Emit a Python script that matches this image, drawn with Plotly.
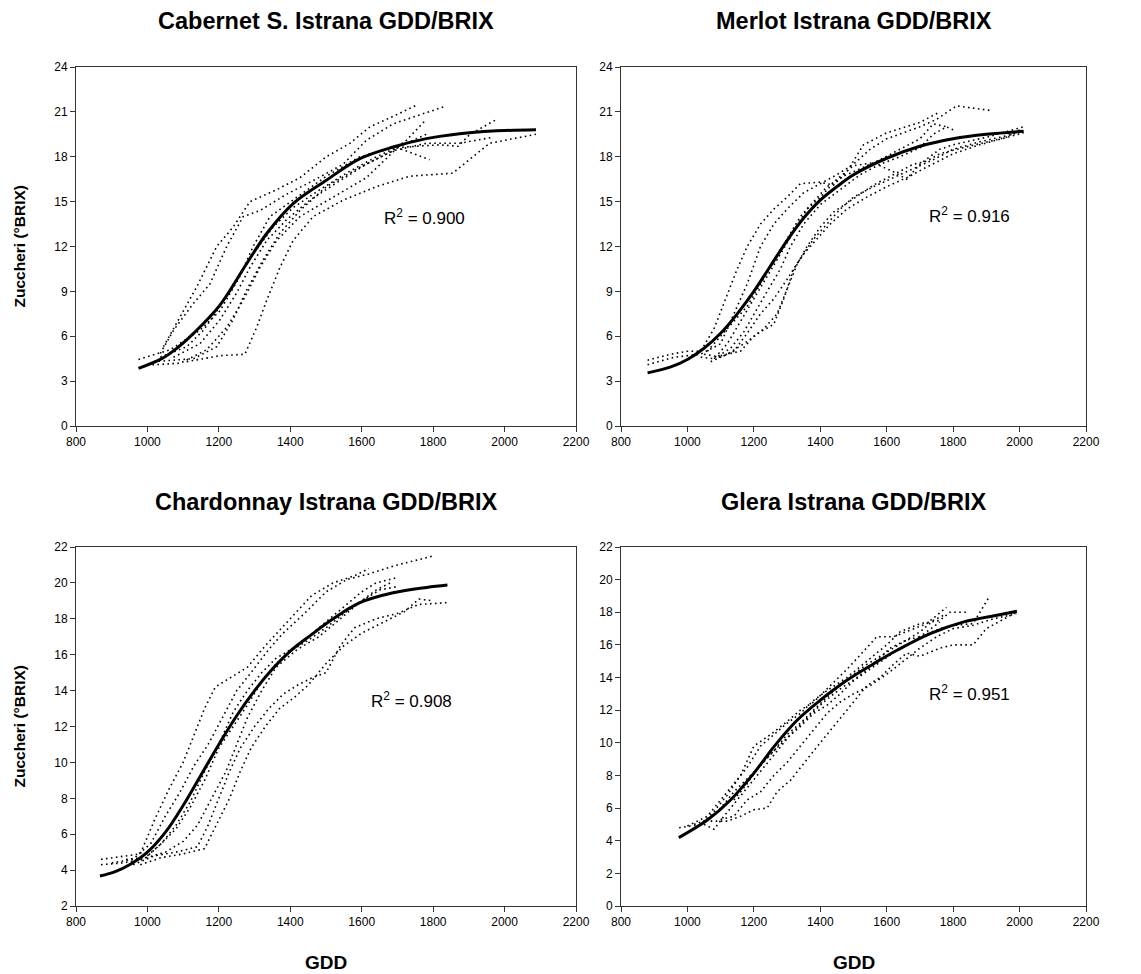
import plotly.graph_objects as go

# ---------------- DATA ----------------
panel_titles = ["Cabernet S. Istrana GDD/BRIX", "Merlot Istrana GDD/BRIX",
                "Chardonnay Istrana GDD/BRIX", "Glera Istrana GDD/BRIX"]
r2_labels = ["0.900", "0.916", "0.908", "0.951"]
r2_pos = [(1777, 14.0), (1848, 14.1), (1738, 13.5), (1848, 13.05)]
y_ranges = [(0, 24, 3), (0, 24, 3), (2, 22, 2), (0, 22, 2)]
x_ticks = [800, 1000, 1200, 1400, 1600, 1800, 2000, 2200]

# fitted curves (GDD, Brix)
cab_fit = [(975, 3.85), (1040, 4.5), (1082, 5.19), (1129, 6.19), (1203, 8.08), (1278, 10.86),
           (1334, 12.87), (1408, 14.87), (1501, 16.43), (1595, 17.87), (1688, 18.65),
           (1781, 19.21), (1874, 19.54), (1967, 19.72), (2088, 19.81)]
mer_fit = [(880, 3.55), (950, 3.95), (1000, 4.45), (1050, 5.2), (1100, 6.2), (1150, 7.5),
           (1200, 9.0), (1250, 10.7), (1300, 12.4), (1350, 13.9), (1400, 15.1), (1450, 16.0),
           (1500, 16.8), (1600, 17.9), (1700, 18.7), (1800, 19.2), (1900, 19.5), (2012, 19.7)]
cha_fit = [(867, 3.67), (910, 3.92), (950, 4.3), (1000, 5.0), (1050, 6.1), (1100, 7.6),
           (1150, 9.3), (1200, 11.0), (1250, 12.6), (1300, 14.0), (1350, 15.2), (1400, 16.2),
           (1455, 17.05), (1520, 18.0), (1595, 18.9), (1688, 19.45), (1782, 19.75), (1840, 19.88)]
gle_fit = [(974, 4.19), (1059, 5.25), (1129, 6.48), (1199, 8.11), (1260, 9.75), (1330, 11.38),
           (1400, 12.61), (1480, 13.83), (1561, 14.85), (1631, 15.67), (1731, 16.69),
           (1832, 17.41), (1932, 17.82), (1992, 18.06)]

# yearly observations (GDD, Brix), one list per year
cab_years = [
    [(1045, 5.3), (1110, 8.1), (1138, 9.3), (1194, 12.0), (1240, 13.3), (1287, 15.0), (1362, 15.8),
     (1427, 16.6), (1501, 18.0), (1567, 18.9), (1623, 20.0), (1688, 20.7), (1758, 21.5)],
    [(1036, 4.85), (1073, 6.4), (1129, 8.2), (1175, 9.5), (1222, 12.0), (1268, 14.0), (1315, 14.4),
     (1390, 15.5), (1464, 16.4), (1548, 17.5), (1613, 19.1), (1688, 20.2), (1837, 21.4)],
    [(975, 4.45), (1064, 5.1), (1147, 6.4), (1203, 7.7), (1259, 10.0), (1296, 12.0), (1343, 14.0),
     (1408, 15.1), (1501, 16.7), (1595, 18.0), (1688, 18.6), (1819, 18.8), (1870, 18.7),
     (1903, 19.5), (1978, 20.5)],
    [(1000, 4.07), (1092, 4.2), (1166, 5.1), (1222, 6.6), (1268, 8.4), (1315, 10.6), (1362, 12.4),
     (1427, 14.0), (1520, 15.3), (1613, 16.6), (1700, 18.6), (1790, 17.8)],
    [(1110, 4.3), (1203, 4.7), (1273, 4.8), (1306, 6.6), (1334, 8.4), (1371, 10.6), (1408, 12.4),
     (1464, 14.0), (1548, 15.1), (1641, 16.0), (1734, 16.7), (1855, 16.9), (1901, 17.8),
     (1958, 18.9), (2088, 19.5)],
    [(1017, 4.3), (1129, 4.5), (1194, 5.3), (1240, 7.1), (1278, 9.1), (1324, 11.1), (1371, 12.9),
     (1427, 14.4), (1501, 16.0), (1595, 17.3), (1688, 18.4), (1781, 18.9), (1874, 18.9),
     (1967, 19.3)],
    [(1036, 4.6), (1110, 5.3), (1157, 6.4), (1203, 8.0), (1250, 9.8), (1296, 11.5), (1352, 13.3),
     (1408, 14.6), (1483, 15.8), (1557, 16.9), (1641, 18.0), (1725, 18.9), (1781, 19.5)],
    [(1073, 4.6), (1147, 5.5), (1203, 7.1), (1250, 8.9), (1287, 10.6), (1334, 12.4), (1390, 13.8),
     (1455, 15.1), (1539, 16.4), (1613, 17.5), (1688, 18.4), (1725, 19.1), (1781, 20.5)],
]
mer_years = [
    [(880, 4.4), (950, 4.8), (1000, 5.0), (1040, 5.0), (1080, 6.5), (1110, 8.2), (1150, 10.5),
     (1180, 12.0), (1220, 13.5), (1260, 14.5), (1300, 15.3), (1340, 16.2), (1400, 16.3),
     (1440, 16.1), (1480, 17.0), (1530, 18.8), (1600, 19.6), (1700, 20.3), (1760, 21.0)],
    [(880, 4.1), (960, 4.6), (1040, 4.8), (1100, 5.5), (1140, 7.5), (1180, 9.5), (1220, 12.0),
     (1260, 13.5), (1300, 14.5), (1350, 15.6), (1400, 16.2), (1450, 16.8), (1500, 17.5),
     (1550, 18.5), (1600, 19.2), (1700, 20.0), (1750, 20.5), (1810, 21.4), (1910, 21.1)],
    [(1040, 4.6), (1080, 4.5), (1120, 5.5), (1160, 7.0), (1200, 8.5), (1240, 10.0), (1280, 11.5),
     (1320, 13.0), (1360, 14.5), (1400, 15.3), (1450, 16.5), (1500, 17.4), (1560, 17.6),
     (1620, 17.0), (1660, 16.5), (1700, 17.5), (1760, 18.5), (1800, 18.8), (1900, 19.3),
     (2012, 20.0)],
    [(1050, 4.8), (1100, 4.6), (1140, 5.0), (1180, 6.2), (1220, 7.5), (1260, 8.5), (1300, 9.8),
     (1340, 11.2), (1380, 12.5), (1420, 13.5), (1460, 14.5), (1500, 15.3), (1560, 16.0),
     (1620, 16.6), (1680, 17.2), (1740, 17.8), (1800, 18.5), (1880, 19.0), (1960, 19.4),
     (2012, 19.7)],
    [(1070, 4.3), (1120, 4.8), (1170, 5.5), (1220, 6.3), (1260, 6.8), (1290, 8.5), (1320, 10.5),
     (1350, 11.5), (1390, 12.5), (1430, 13.5), (1480, 14.5), (1540, 15.3), (1600, 16.0),
     (1660, 16.6), (1720, 17.3), (1800, 18.2), (1880, 18.8), (1960, 19.3), (2012, 19.6)],
    [(1080, 4.5), (1130, 5.2), (1170, 6.3), (1200, 7.5), (1240, 9.0), (1280, 10.5), (1310, 12.0),
     (1350, 13.5), (1400, 14.8), (1460, 15.8), (1520, 16.8), (1580, 17.5), (1640, 18.0),
     (1700, 18.6), (1740, 19.5), (1780, 20.0), (1800, 19.8)],
    [(1060, 5.0), (1100, 6.0), (1140, 7.0), (1180, 8.0), (1220, 9.5), (1260, 11.0), (1300, 12.5),
     (1340, 14.0), (1380, 15.0), (1420, 16.0), (1470, 16.7), (1520, 17.2), (1580, 17.8),
     (1640, 18.5), (1700, 19.2), (1740, 20.2), (1780, 20.0)],
    [(1100, 4.7), (1160, 5.0), (1200, 6.0), (1230, 6.5), (1270, 7.5), (1300, 9.2), (1330, 10.8),
     (1360, 12.0), (1400, 13.3), (1440, 14.3), (1500, 15.2), (1560, 16.1), (1620, 16.8),
     (1680, 17.5), (1720, 17.7), (1760, 18.2), (1830, 18.6), (1900, 19.0), (1960, 19.3),
     (2000, 19.8)],
]
cha_years = [
    [(870, 4.6), (940, 4.8), (980, 4.9), (1020, 6.8), (1060, 8.5), (1100, 10.0), (1130, 11.5),
     (1160, 13.0), (1190, 14.2), (1230, 14.7), (1280, 15.3), (1330, 16.5), (1400, 18.0),
     (1460, 19.3), (1520, 20.0), (1580, 20.4), (1620, 20.8)],
    [(900, 4.4), (960, 4.6), (1010, 5.5), (1050, 7.0), (1090, 8.3), (1130, 9.8), (1170, 11.0),
     (1210, 12.5), (1250, 14.0), (1290, 15.0), (1340, 16.3), (1380, 17.2), (1440, 18.3),
     (1500, 19.5), (1560, 20.2), (1620, 20.5), (1700, 21.0), (1800, 21.5)],
    [(870, 4.3), (930, 4.4), (990, 4.6), (1040, 5.5), (1080, 6.5), (1120, 7.8), (1160, 9.5),
     (1200, 11.0), (1240, 12.8), (1280, 14.0), (1320, 15.0), (1360, 15.8), (1420, 16.5),
     (1480, 17.5), (1540, 18.5), (1600, 19.5), (1640, 20.0), (1700, 20.3)],
    [(940, 4.6), (1000, 4.7), (1050, 5.0), (1100, 5.6), (1140, 6.5), (1180, 8.0), (1220, 9.5),
     (1250, 11.0), (1280, 12.5), (1320, 14.0), (1360, 15.3), (1420, 16.3), (1480, 17.0),
     (1540, 18.0), (1600, 19.0), (1640, 19.6), (1680, 20.0)],
    [(960, 4.3), (1020, 4.8), (1080, 5.0), (1140, 5.3), (1170, 6.5), (1200, 8.0), (1230, 9.5),
     (1260, 10.8), (1300, 12.0), (1340, 13.0), (1380, 13.8), (1420, 14.3), (1460, 14.7),
     (1500, 15.0), (1540, 16.5), (1580, 17.5), (1640, 18.0), (1700, 18.3), (1760, 18.8),
     (1840, 18.9)],
    [(980, 4.3), (1040, 4.7), (1100, 4.9), (1160, 5.2), (1200, 6.8), (1230, 8.0), (1260, 9.5),
     (1290, 10.8), (1330, 12.0), (1370, 13.0), (1410, 13.6), (1450, 14.3), (1500, 15.5),
     (1550, 16.5), (1600, 17.2), (1660, 17.8), (1720, 18.4), (1760, 19.1), (1800, 19.0)],
    [(1000, 4.8), (1040, 5.5), (1080, 6.3), (1120, 7.5), (1160, 9.0), (1200, 10.8), (1240, 12.0),
     (1280, 13.2), (1320, 14.5), (1360, 15.5), (1400, 16.2), (1450, 16.8), (1500, 17.5),
     (1550, 18.3), (1600, 19.0), (1650, 19.6), (1700, 19.8)],
]
gle_years = [
    [(975, 4.8), (1040, 5.0), (1080, 5.8), (1120, 6.8), (1160, 8.0), (1200, 9.8), (1250, 10.5),
     (1300, 11.3), (1340, 12.0), (1380, 12.5), (1430, 13.5), (1480, 14.5), (1530, 15.6),
     (1570, 16.5), (1620, 16.5), (1660, 16.8), (1720, 17.3), (1780, 18.3)],
    [(1000, 4.9), (1060, 5.5), (1100, 6.5), (1140, 7.5), (1180, 8.5), (1220, 9.8), (1260, 10.5),
     (1300, 11.2), (1340, 11.8), (1380, 12.6), (1420, 13.2), (1480, 14.0), (1540, 15.0),
     (1600, 16.0), (1640, 16.8), (1700, 17.3), (1760, 17.5), (1790, 18.0), (1840, 18.0)],
    [(1050, 5.0), (1080, 4.7), (1110, 5.5), (1150, 6.5), (1190, 7.5), (1230, 8.5), (1270, 9.5),
     (1310, 10.5), (1360, 11.5), (1410, 12.5), (1460, 13.3), (1510, 14.0), (1560, 14.8),
     (1610, 15.8), (1660, 16.3), (1700, 16.5), (1760, 17.0), (1800, 17.2), (1860, 17.3),
     (1910, 19.0)],
    [(1070, 5.2), (1120, 5.2), (1160, 5.5), (1200, 5.9), (1240, 6.0), (1270, 7.0), (1310, 7.7),
     (1340, 8.5), (1380, 9.5), (1420, 10.5), (1460, 11.5), (1500, 12.5), (1540, 13.5),
     (1580, 14.0), (1620, 14.8), (1660, 15.5), (1700, 15.3), (1760, 15.8), (1800, 16.0),
     (1860, 16.0), (1900, 17.0), (1990, 18.0)],
    [(1100, 5.3), (1140, 5.5), (1180, 6.5), (1220, 7.0), (1260, 8.0), (1300, 8.8), (1340, 9.8),
     (1380, 10.8), (1420, 11.8), (1460, 12.5), (1500, 13.0), (1550, 13.5), (1600, 14.2),
     (1650, 15.0), (1700, 15.8), (1750, 16.5), (1800, 17.0), (1860, 17.2), (1920, 17.6),
     (1990, 17.9)],
    [(1140, 6.5), (1180, 7.5), (1220, 8.7), (1260, 9.5), (1300, 10.5), (1340, 11.2), (1380, 12.0),
     (1420, 12.8), (1460, 13.5), (1500, 14.2), (1540, 14.8), (1580, 15.3), (1620, 15.8),
     (1660, 16.3), (1700, 16.8), (1740, 17.5), (1770, 17.8)],
    [(1020, 5.0), (1060, 5.3), (1100, 6.0), (1140, 7.0), (1180, 7.8), (1220, 8.6), (1260, 9.5),
     (1300, 10.3), (1340, 11.0), (1380, 11.8), (1420, 12.3), (1460, 13.0), (1500, 13.8),
     (1550, 14.5), (1600, 15.2), (1640, 15.8), (1680, 16.2), (1720, 16.8), (1760, 17.4)],
]

all_years = [cab_years, mer_years, cha_years, gle_years]
all_fits = [cab_fit, mer_fit, cha_fit, gle_fit]

# ---------------- LAYOUT ----------------
PAGE_OFF = 8                                  # default body margin of the html page
W, H = 1141 - 2 * PAGE_OFF, 974 - PAGE_OFF
ML, MR, MT, MB = 40, 40, 40, 20
PW, PH = W - ML - MR, H - MT - MB
FONT = "Liberation Sans, Arial, sans-serif"
# plot boxes in page pixels (left, right, top, bottom)
boxes = [(76, 576, 67, 426), (621, 1086, 67, 426), (76, 576, 547, 906), (621, 1086, 547, 906)]


def px_x(px):
    return (px - PAGE_OFF - ML) / PW


def px_y(py):
    return 1 - (py - PAGE_OFF - MT) / PH


fig = go.Figure()
layout = dict(width=W, height=H, margin=dict(l=ML, r=MR, t=MT, b=MB, autoexpand=False),
              paper_bgcolor="white", plot_bgcolor="white", showlegend=False,
              font=dict(family=FONT, color="black", size=12))
annotations = []

for i in range(4):
    xs = "" if i == 0 else str(i + 1)
    xa, ya = "x" + xs, "y" + xs
    for yr in all_years[i]:
        fig.add_trace(go.Scatter(x=[p[0] for p in yr], y=[p[1] for p in yr], xaxis=xa, yaxis=ya,
                                 mode="lines", line=dict(color="black", width=1.6, dash="1.6px,3.4px"),
                                 hoverinfo="skip"))
    fit = all_fits[i]
    fig.add_trace(go.Scatter(x=[p[0] for p in fit], y=[p[1] for p in fit], xaxis=xa, yaxis=ya,
                             mode="lines", line=dict(color="black", width=3, shape="spline"),
                             hoverinfo="skip"))
    x0, x1, y0, y1 = boxes[i]
    ymin, ymax, dy = y_ranges[i]
    axcommon = dict(showline=True, linecolor="#333333", linewidth=1, mirror=True,
                    ticks="outside", ticklen=5, tickcolor="#333333", showgrid=False,
                    zeroline=False, automargin=False,
                    tickfont=dict(family=FONT, size=12, color="black"))
    layout["xaxis" + xs] = dict(domain=[px_x(x0), px_x(x1)], range=[800, 2200], tickvals=x_ticks,
                                anchor=ya, **axcommon)
    layout["yaxis" + xs] = dict(domain=[px_y(y1), px_y(y0)], range=[ymin, ymax], dtick=dy,
                                tick0=ymin, anchor=xa, **axcommon)
    # panel title
    annotations.append(dict(text="<b>" + panel_titles[i] + "</b>", xref="paper", yref="paper",
                            x=px_x((x0 + x1) / 2), y=px_y(21 if i < 2 else 502),
                            showarrow=False, font=dict(family=FONT, size=23.5, color="black"),
                            xanchor="center", yanchor="middle"))
    # R^2
    annotations.append(dict(text="R<sup>2</sup> = " + r2_labels[i], xref=xa, yref=ya,
                            x=r2_pos[i][0], y=r2_pos[i][1], showarrow=False,
                            font=dict(family=FONT, size=17, color="black")))
    if i % 2 == 0:
        annotations.append(dict(text="<b>Zuccheri (°BRIX)</b>", xref="paper", yref="paper",
                                x=px_x(19), y=px_y((y0 + y1) / 2), textangle=-90, showarrow=False,
                                font=dict(family=FONT, size=15.5, color="black"),
                                xanchor="center", yanchor="middle"))
    if i >= 2:
        annotations.append(dict(text="<b>GDD</b>", xref="paper", yref="paper",
                                x=px_x((x0 + x1) / 2), y=px_y(962), showarrow=False,
                                font=dict(family=FONT, size=19, color="black"),
                                xanchor="center", yanchor="middle"))

layout["annotations"] = annotations
fig.update_layout(**layout)
fig.write_html("out.html")
